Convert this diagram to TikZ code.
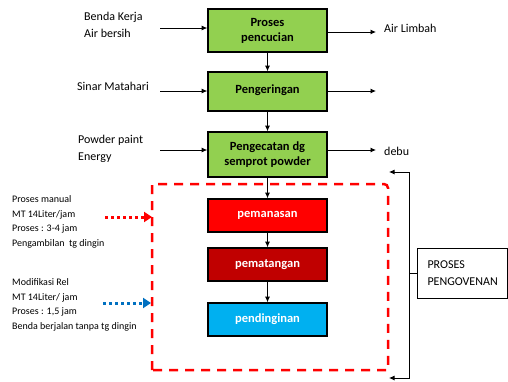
\documentclass[tikz,border=0pt]{standalone}
\usepackage{fontspec}
\setmainfont{Carlito}
\usetikzlibrary{arrows.meta}
\definecolor{gbox}{HTML}{92D050}
\definecolor{rbox}{HTML}{FF0000}
\definecolor{drbox}{HTML}{C00000}
\definecolor{bbox}{HTML}{00B0F0}
\definecolor{dblue}{HTML}{0070C0}
\tikzset{
  procbox/.style={draw=black,line width=1.6pt,minimum width=119pt,inner sep=0pt,align=center,font=\fontsize{12.5}{15}\selectfont\bfseries},
  greenbox/.style={procbox,fill=gbox,text=black},
  ovenbox/.style={procbox,text=white,minimum height=33pt},
  conn/.style={line width=0.8pt,-{Latex[length=5.5pt,width=5pt]}},
  sidetext/.style={font=\fontsize{12}{17}\selectfont,align=left,inner sep=0pt,anchor=west},
  smalltext/.style={font=\fontsize{10}{14.6}\selectfont,align=left,inner sep=0pt,anchor=west},
  dotarrow/.style={line width=3pt,dash pattern=on 3pt off 3pt,-{Triangle[length=8pt,width=10pt]}},
}
\begin{document}
\begin{tikzpicture}[x=1pt,y=-1pt]
\useasboundingbox (0,0) rectangle (508,381);
% green process boxes
\node[greenbox,minimum height=43pt] (b1) at (267.5,30.5) {Proses\\pencucian};
\node[greenbox,minimum height=39pt] (b2) at (267.5,91.5) {\raisebox{4pt}{Pengeringan}};
\node[greenbox,minimum height=45pt] (b3) at (267.5,154.5) {Pengecatan dg\\semprot powder};
% oven boxes
\node[ovenbox,fill=rbox] (o1) at (267.5,215.5) {pemanasan};
\node[ovenbox,fill=drbox] (o2) at (267.5,264.5) {pematangan};
\node[ovenbox,fill=bbox] (o3) at (267.5,319.5) {pendinginan};
% vertical flow
\draw[conn] (b1) -- (b2);
\draw[conn] (b2) -- (b3);
\draw[conn] (b3) -- (o1);
\draw[conn] (o1) -- (o2);
\draw[conn] (o2) -- (o3);
% inputs
\coordinate (in1) at (160,28);
\coordinate (in2) at (160,91);
\coordinate (in3) at (160,150);
\draw[conn] (in1) -- (in1 -| b1.west);
\draw[conn] (in2) -- (in2 -| b2.west);
\draw[conn] (in3) -- (in3 -| b3.west);
\node[sidetext] (t1) at (84,24.5) {Benda Kerja\\Air bersih};
\node[sidetext] (t2) at (77,86) {Sinar Matahari};
\node[sidetext] (t3) at (78,149) {Powder paint\\Energy};
% outputs
\coordinate (out1) at (376,32);
\coordinate (out2) at (376,91);
\coordinate (out3) at (376,150);
\draw[conn] (out1 -| b1.east) -- (out1);
\draw[conn] (out2 -| b2.east) -- (out2);
\draw[conn] (out3 -| b3.east) -- (out3);
\node[sidetext] (t4) at (384,28) {Air Limbah};
\node[sidetext] (t5) at (384,151) {debu};
% dashed oven region
\draw[rbox,line width=2.5pt,dash pattern=on 9pt off 7pt]
  (152,370) -- (152,184) [rounded corners=4pt] -- (388,184) [sharp corners] -- (388,370) -- cycle;
% left notes
\node[smalltext] (n1) at (12,222) {Proses manual\\MT 14Liter/jam\\Proses : 3-4 jam\\Pengambilan\ \ tg dingin};
\node[smalltext] (n2) at (12,305) {Modifikasi Rel\\MT 14Liter/ jam\\Proses : 1,5 jam\\Benda berjalan tanpa tg dingin};
\coordinate (d1s) at (105,217);
\coordinate (d1e) at (152,217);
\coordinate (d2s) at (103,303);
\coordinate (d2e) at (151,303);
\draw[dotarrow,rbox] (d1s) -- (d1e);
\draw[dotarrow,dblue] (d2s) -- (d2e);
% bracket and label
\node[draw=black,line width=0.8pt,minimum width=90pt,minimum height=50pt,text width=70pt,inner xsep=10pt,align=left,font=\fontsize{12}{17}\selectfont] (pv) at (462.5,273) {PROSES\\PENGOVENAN};
\coordinate (bt) at (389,172);
\coordinate (bb) at (389,378);
\coordinate (bm) at (409,273);
\draw[conn] (pv.west) -- (bm) |- (bt);
\draw[conn] (bm) |- (bb);
\end{tikzpicture}
\end{document}
